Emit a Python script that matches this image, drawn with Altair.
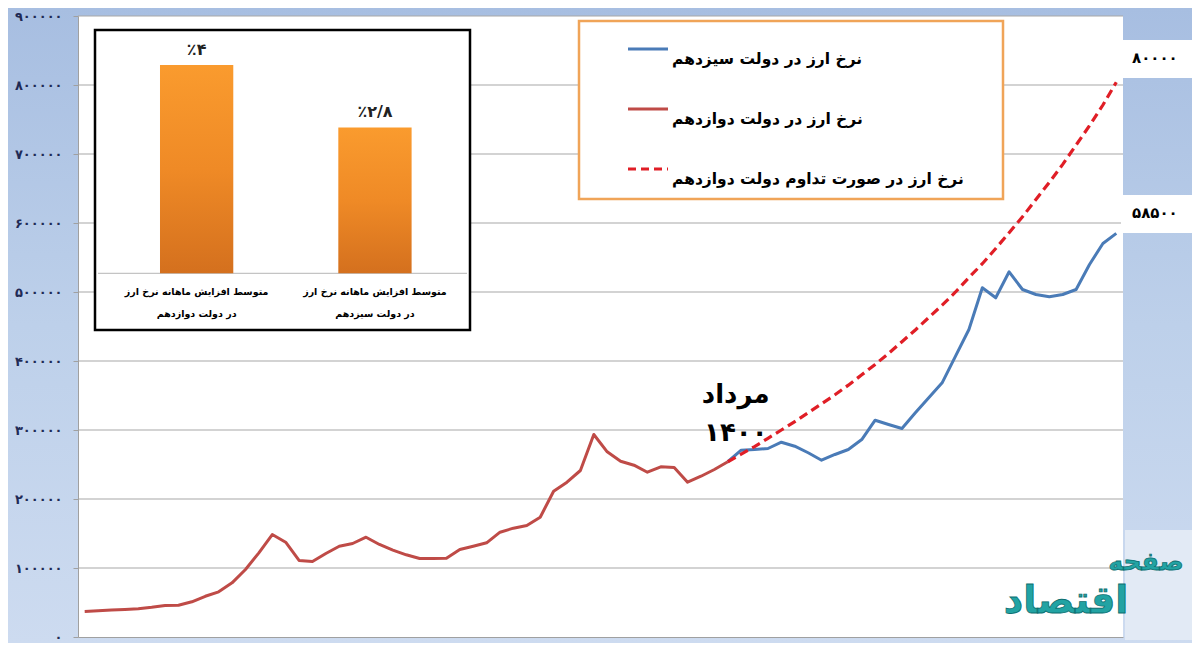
import altair as alt
import pandas as pd

# ---------------- data ----------------
y_ticks = [0, 100000, 200000, 300000, 400000, 500000, 600000, 700000, 800000, 900000]

red_start = 0
red_values = [37000, 38000, 39000, 40000, 41000, 43000, 45500, 46000, 51000, 59000,
              65500, 78500, 97800, 122000, 148500, 137400, 111000, 109400, 121000, 131600,
              135500, 144600, 134100, 125800, 119100, 113800, 113800, 114200, 126800, 131600,
              136500, 151900, 157700, 161600, 173600, 211300, 224400, 241300, 293500, 268400,
              254800, 249000, 238800, 246700, 245700, 224400, 233000, 242800, 254000]

blue_start = 48
blue_values = [254000, 270700, 271700, 273200, 282300, 276500, 267000, 256200, 264500, 271700,
               286200, 314200, 308000, 302200, 324900, 346700, 368400, 407000, 445700, 506100,
               491600, 529300, 503600, 496400, 493000, 496400, 503600, 539900, 570300, 585000]

proj_start = 48
proj_values = [254000, 265000, 276000, 288000, 300000, 312000, 325000, 338000, 351000, 365000,
               380000, 395000, 411000, 428000, 445000, 463000, 481000, 500000, 521000, 541000,
               563000, 586000, 609000, 634000, 659000, 685000, 713000, 741000, 771000, 804000]

legend_labels = ["نرخ ارز در دولت سیزدهم", "نرخ ارز در دولت دوازدهم",
                 "نرخ ارز در صورت تداوم دولت دوازدهم"]
inset_categories = ["متوسط افزایش ماهانه نرخ ارز\nدر دولت دوازدهم",
                    "متوسط افزایش ماهانه نرخ ارز\nدر دولت سیزدهم"]
inset_values = [4, 2.8]
inset_value_labels = ["٪۴", "٪۲/۸"]
annot_lines = ["مرداد", "۱۴۰۰"]
end_labels = ["۸۰۰۰۰", "۵۸۵۰۰"]
logo_words = ["اقتصاد", "صفحه"]

# ---------------- layout helpers ----------------
W, H = 1045, 621
OX, OY = 78, 16          # page position of plot origin
def px(x): return x - OX
def py(y): return y - OY

FONT = "DejaVu Sans"
RED = "#bf4b47"
BLUE = "#4a7bb7"
DASH = "#e01e26"

one = pd.DataFrame({"a": [0]})

persian = "datum.label"
for d, p in zip("0123456789", "۰۱۲۳۴۵۶۷۸۹"):
    persian = f"replace({persian}, regexp('{d}', 'g'), '{p}')"

x_scale = alt.Scale(domain=[-0.5, 77.5], nice=False, zero=False)
y_scale = alt.Scale(domain=[0, 900000], nice=False)
x_axis = alt.Axis(labels=False, ticks=False, grid=False, domain=True, domainColor="#a0a0a0",
                  title=None, zindex=1)
y_axis = alt.Axis(values=y_ticks, format="d", labelExpr=persian, grid=False, domain=True,
                  domainColor="#a0a0a0", ticks=True, tickColor="#a0a0a0", tickSize=5,
                  labelPadding=11, labelFont=FONT, labelFontWeight="bold", labelFontSize=13,
                  labelColor="#1f2a55", title=None, zindex=1)

def X(f="i:Q"): return alt.X(f, scale=x_scale, axis=x_axis)
def Y(f="value:Q"): return alt.Y(f, scale=y_scale, axis=y_axis)

red_df = pd.DataFrame({"i": list(range(red_start, red_start + len(red_values))), "value": red_values})
blue_df = pd.DataFrame({"i": list(range(blue_start, blue_start + len(blue_values))), "value": blue_values})
proj_df = pd.DataFrame({"i": list(range(proj_start, proj_start + len(proj_values))), "value": proj_values})
grid_df = pd.DataFrame({"value": y_ticks[1:]})

bg_grad = alt.Gradient(gradient="linear",
                       stops=[alt.GradientStop(color="#a7bee1", offset=0),
                              alt.GradientStop(color="#bdd0ea", offset=0.5),
                              alt.GradientStop(color="#cddbf0", offset=1)],
                       x1=0, x2=0, y1=0, y2=1)

background = alt.Chart(one).mark_rect(color=bg_grad).encode(
    x=alt.value(-OX + 8), x2=alt.value(W + 69), y=alt.value(-OY + 8), y2=alt.value(H + 6))
plot_bg = alt.Chart(one).mark_rect(color="white").encode(
    x=alt.value(0), x2=alt.value(W), y=alt.value(0), y2=alt.value(H))
logo_bg = alt.Chart(one).mark_rect(color="#e2eaf5").encode(
    x=alt.value(px(1125)), x2=alt.value(px(1192)), y=alt.value(py(530)), y2=alt.value(py(640)))

grid = alt.Chart(grid_df).mark_rule(color="#a8a8a8", strokeWidth=1.2).encode(
    y=Y(), x=alt.value(0), x2=alt.value(W))

red_line = alt.Chart(red_df).mark_line(color=RED, strokeWidth=3, strokeJoin="round").encode(x=X(), y=Y())
blue_line = alt.Chart(blue_df).mark_line(color=BLUE, strokeWidth=3, strokeJoin="round").encode(x=X(), y=Y())
proj_line = alt.Chart(proj_df).mark_line(color=DASH, strokeWidth=3.2, strokeDash=[9, 5]).encode(x=X(), y=Y())

# legend box
legend_layers = [alt.Chart(one).mark_rect(fill="white", stroke="#f0a458", strokeWidth=2.5).encode(
    x=alt.value(px(579)), x2=alt.value(px(1003)), y=alt.value(py(21)), y2=alt.value(py(199)))]
leg_colors = [BLUE, RED, DASH]
leg_dash = [None, None, [8, 5]]
for k, lab in enumerate(legend_labels):
    ly = py(49) + 60 * k
    kw = dict(color=leg_colors[k], strokeWidth=3)
    if leg_dash[k]:
        kw["strokeDash"] = leg_dash[k]
    legend_layers.append(alt.Chart(one).mark_rule(**kw).encode(
        x=alt.value(px(628)), x2=alt.value(px(668)), y=alt.value(ly)))
    legend_layers.append(alt.Chart(one).mark_text(
        text=lab, font=FONT, fontWeight="bold", fontSize=15.5, color="black",
        align="left", baseline="alphabetic").encode(
        x=alt.value(px(672)), y=alt.value(ly + 15)))

# annotation "مرداد ۱۴۰۰" anchored at the hand-over month
annot = [alt.Chart(one).mark_text(text=t, font=FONT, fontWeight="bold", fontSize=26, color="black",
                                  align="center", baseline="middle", dx=8).encode(
    x=alt.X("d:Q", scale=x_scale, axis=x_axis), y=alt.value(py(yy)))
    .transform_calculate(d=str(blue_start))
    for t, yy in zip(annot_lines, [395, 433])]

# end labels
end_layers = []
for t, (y0, y1) in zip(end_labels, [(40, 78), (195, 233)]):
    end_layers.append(alt.Chart(one).mark_rect(color="white").encode(
        x=alt.value(px(1121)), x2=alt.value(px(1192)), y=alt.value(py(y0)), y2=alt.value(py(y1))))
    end_layers.append(alt.Chart(one).mark_text(text=t, font=FONT, fontWeight="bold", fontSize=15,
                                               color="black", align="left", baseline="middle").encode(
        x=alt.value(px(1132)), y=alt.value(py((y0 + y1) / 2 - 1))))

# logo watermark
logo = [
    alt.Chart(one).mark_text(text=logo_words[0], font=FONT, fontWeight="bold", fontSize=38,
                             color="#22a3a3", stroke="#0d6f70", strokeWidth=0.8,
                             align="center", baseline="middle").encode(
        x=alt.value(px(1066)), y=alt.value(py(602))),
    alt.Chart(one).mark_text(text=logo_words[1], font=FONT, fontWeight="bold", fontSize=25,
                             color="#22a3a3", stroke="#0d6f70", strokeWidth=0.8,
                             align="center", baseline="middle").encode(
        x=alt.value(px(1146)), y=alt.value(py(562))),
]

main = alt.layer(background, plot_bg, logo_bg, grid, red_line, blue_line, proj_line,
                 *legend_layers, *annot, *end_layers, *logo)

# ---------------- inset bar chart ----------------
inset_df = pd.DataFrame({"cat": inset_categories, "pct": inset_values, "lab": inset_value_labels})
bx = alt.X("cat:N", sort=inset_categories,
           scale=alt.Scale(range=[28.5, 387.1], paddingInner=0.589, paddingOuter=0.3), axis=None)
by = alt.Y("pct:Q", scale=alt.Scale(domain=[0, 4], range=[257.3, 49], nice=False, zero=True), axis=None)

bar_grad = alt.Gradient(gradient="linear",
                        stops=[alt.GradientStop(color="#fa9b2e", offset=0),
                               alt.GradientStop(color="#ef8a26", offset=0.5),
                               alt.GradientStop(color="#d4701e", offset=1)],
                       x1=0, x2=0, y1=0, y2=1)

inset_box = alt.Chart(one).mark_rect(fill="white", stroke="black", strokeWidth=2.5).encode(
    x=alt.value(px(95)), x2=alt.value(px(470)), y=alt.value(py(30)), y2=alt.value(py(330)))
inset_base = alt.Chart(one).mark_rule(color="#c4c4c4", strokeWidth=1.2).encode(
    x=alt.value(px(98)), x2=alt.value(px(467)), y=alt.value(py(273.3)))
bars = alt.Chart(inset_df).mark_bar(color=bar_grad).encode(x=bx, y=by)
bar_vals = alt.Chart(inset_df).mark_text(font=FONT, fontWeight="bold", fontSize=16, color="#222",
                                         baseline="middle", dy=-15).encode(x=bx, y=by, text="lab:N")
bar_cats = alt.Chart(inset_df).mark_text(font=FONT, fontWeight="bold", fontSize=9.5, color="black",
                                         baseline="top", lineBreak="\n", lineHeight=22).encode(
    x=bx, y=alt.value(py(287)), text="cat:N")

inset = alt.layer(inset_box, inset_base, bars, bar_vals, bar_cats)

chart = alt.layer(main, inset).resolve_scale(x="independent", y="independent").properties(
    width=W, height=H,
    padding={"left": 70, "top": 8, "right": 69, "bottom": 6},
    autosize=alt.AutoSizeParams(type="none"),
    background="#bccfe8",
).configure_view(strokeWidth=0)

chart.save("out.html", embed_options={"renderer": "svg", "actions": False})
